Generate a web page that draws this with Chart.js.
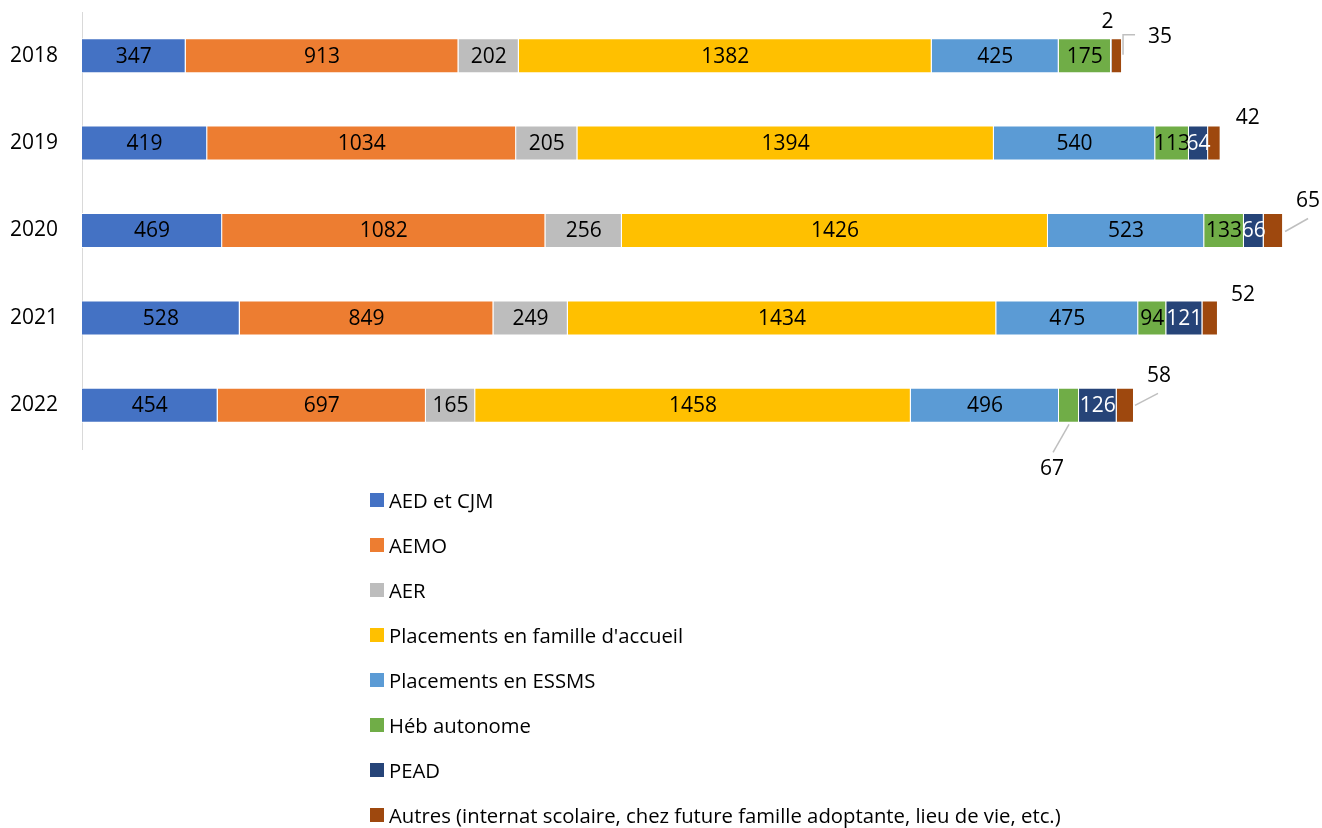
<!DOCTYPE html>
<html>
<head>
<meta charset="utf-8">
<script src="https://cdn.jsdelivr.net/npm/chart.js@4"></script>
<style>
  body { margin: 0; background: #fff; width: 1322px; height: 828px; overflow: hidden; position: relative; font-family: 'Open Sans', sans-serif; }
  #wrap { position: absolute; left: 0; top: 0; width: 1322px; height: 490px; }
  #legend { position: absolute; left: 370px; top: 478px; }
  .item { height: 44.9px; display: flex; align-items: center; font-size: 20.3px; color: #000; white-space: nowrap; }
  .box { width: 14px; height: 14px; margin-right: 5px; flex: none; }
</style>
</head>
<body>
<div id="wrap"><canvas id="chart" width="1322" height="490"></canvas></div>
<div id="legend"></div>
<script>
// categories
const years = ['2018', '2019', '2020', '2021', '2022'];

// series names
const seriesNames = [
  'AED et CJM',
  'AEMO',
  'AER',
  "Placements en famille d'accueil",
  'Placements en ESSMS',
  'Héb autonome',
  'PEAD',
  'Autres (internat scolaire, chez future famille adoptante, lieu de vie, etc.)'
];

// values per series, one per year
const aedCjm         = [347, 419, 469, 528, 454];
const aemo           = [913, 1034, 1082, 849, 697];
const aer            = [202, 205, 256, 249, 165];
const familleAccueil = [1382, 1394, 1426, 1434, 1458];
const essms          = [425, 540, 523, 475, 496];
const hebAutonome    = [175, 113, 133, 94, 67];
const pead           = [2, 64, 66, 121, 126];
const autres         = [35, 42, 65, 52, 58];

const seriesValues = [aedCjm, aemo, aer, familleAccueil, essms, hebAutonome, pead, autres];
const colors = ['#4472C4', '#ED7D31', '#BDBDBD', '#FFC000', '#5B9BD5', '#70AD47', '#264478', '#9E480E'];
const labelColors = ['#000', '#000', '#000', '#000', '#000', '#000', '#fff', '#000'];

// labels placed outside the bar (offsets from the segment end), with leader lines
const outsideLabels = {
  '6-0': { dx: -4, dy: -34 },
  '7-0': { dx: 38, dy: -19, line: [[1, -1], [1, -21], [13, -21]] },
  '7-1': { dx: 27, dy: -25 },
  '7-2': { dx: 25, dy: -29, line: [[2, 1], [25, -12]] },
  '7-3': { dx: 25, dy: -23 },
  '7-4': { dx: 25, dy: -29, line: [[1, 0], [24, -12]] },
  '5-4': { dx: -27, dy: 64, line: [[-10, 19], [-26, 47]] }
};

const segLabels = {
  id: 'segLabels',
  afterDatasetsDraw(chart) {
    const ctx = chart.ctx;
    ctx.save();
    ctx.font = '21px "Open Sans"';
    ctx.textAlign = 'center';
    ctx.textBaseline = 'middle';
    chart.data.datasets.forEach((ds, di) => {
      chart.getDatasetMeta(di).data.forEach((bar, i) => {
        const v = ds.data[i];
        const out = outsideLabels[di + '-' + i];
        if (out) {
          if (out.line) {
            ctx.strokeStyle = '#BFBFBF';
            ctx.lineWidth = 1.5;
            ctx.beginPath();
            out.line.forEach((p, k) => {
              const px = bar.x + p[0], py = bar.y + p[1];
              if (k) ctx.lineTo(px, py); else ctx.moveTo(px, py);
            });
            ctx.stroke();
          }
          ctx.fillStyle = '#000';
          ctx.fillText(v, bar.x + out.dx, bar.y + out.dy);
        } else {
          ctx.fillStyle = labelColors[di];
          ctx.fillText(v, (bar.x + bar.base) / 2, bar.y + 1);
        }
      });
    });
    ctx.restore();
  }
};

new Chart(document.getElementById('chart'), {
  type: 'bar',
  data: {
    labels: years,
    datasets: seriesNames.map((name, i) => ({
      label: name,
      data: seriesValues[i],
      backgroundColor: colors[i],
      borderColor: '#fff',
      borderWidth: 1,
      categoryPercentage: 1,
      barPercentage: 0.4
    }))
  },
  options: {
    indexAxis: 'y',
    responsive: false,
    animation: false,
    layout: { autoPadding: false, padding: { top: 12, right: 18, bottom: 41, left: 0 } },
    plugins: {
      legend: { display: false },
      tooltip: { enabled: false }
    },
    scales: {
      x: { stacked: true, display: false, min: 0, max: 4090 },
      y: {
        stacked: true,
        grid: { display: false, drawTicks: false },
        border: { display: true, color: '#D9D9D9', width: 1 },
        ticks: { color: '#000', font: { family: 'Open Sans', size: 21 }, padding: 24 },
        afterFit(scale) {
          scale.width = 82;
          scale.paddingTop = 0;
          scale.paddingBottom = 0;
        }
      }
    }
  },
  plugins: [segLabels]
});

// legend as a single column below the chart
const legendEl = document.getElementById('legend');
seriesNames.forEach((name, i) => {
  const item = document.createElement('div');
  item.className = 'item';
  const box = document.createElement('span');
  box.className = 'box';
  box.style.background = colors[i];
  const txt = document.createElement('span');
  txt.textContent = name;
  item.appendChild(box);
  item.appendChild(txt);
  legendEl.appendChild(item);
});
</script>
</body>
</html>
